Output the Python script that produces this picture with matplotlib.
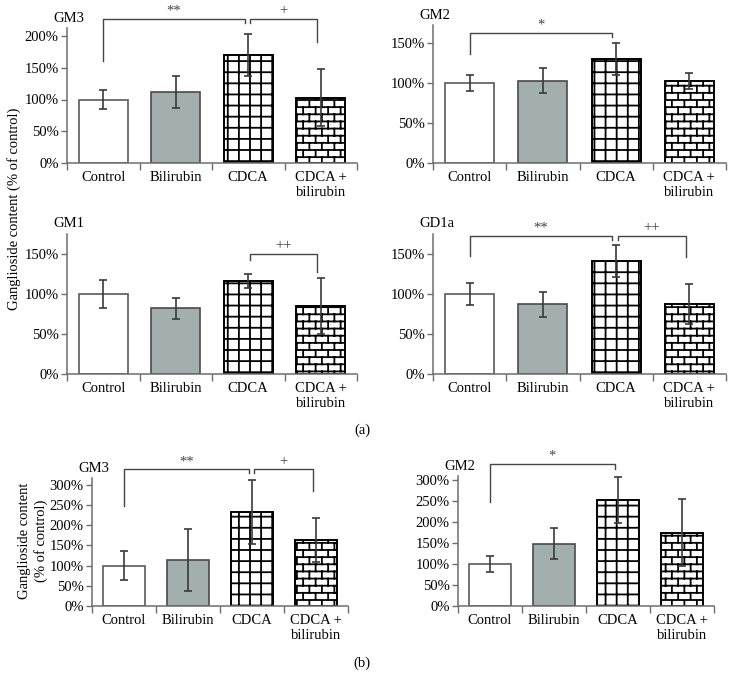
import warnings
import numpy as np
import matplotlib
matplotlib.use('Agg')
import matplotlib.pyplot as plt
from matplotlib import hatch as mhatch
from matplotlib.path import Path

warnings.filterwarnings('ignore')

plt.rcParams['font.family'] = ['Liberation Serif', 'DejaVu Serif']
plt.rcParams['font.size'] = 10.5
plt.rcParams['hatch.linewidth'] = 1.3

groups = ['Control', 'Bilirubin', 'CDCA', 'CDCA +\nbilirubin']

# (a) ganglioside content, % of control
a_gm3 = [100, 112, 170, 103]
a_gm3_err = [15, 25, 33, 45]
a_gm2 = [100, 103, 130, 102]
a_gm2_err = [10, 16, 20, 10]
a_gm1 = [100, 82, 116, 85]
a_gm1_err = [18, 13, 9, 35]
a_gd1a = [100, 87, 141, 88]
a_gd1a_err = [14, 16, 20, 25]
# (b)
b_gm3 = [100, 113, 233, 163]
b_gm3_err = [35, 77, 80, 55]
b_gm2 = [100, 148, 252, 175]
b_gm2_err = [20, 37, 55, 80]

# significance: (bar from, bar to, bracket top, left leg end, right leg end, mark)
a_gm3_sig = [(0, 2, 227, 160, 220, '**'), (2, 3, 227, 220, 191, '+')]
a_gm2_sig = [(0, 2, 162, 136, 157, '*')]
a_gm1_sig = [(2, 3, 150, 143, 127, '++')]
a_gd1a_sig = [(0, 2, 173, 147, 167, '**'), (2, 3, 173, 167, 146, '++')]
b_gm3_sig = [(0, 2, 338, 247, 328, '**'), (2, 3, 338, 328, 284, '+')]
b_gm2_sig = [(0, 2, 338, 248, 328, '*')]


# custom hatches: 'g' = square grid, 'b' = brick wall
class GridHatch(mhatch.HatchPatternBase):
    def __init__(self, hatch, density):
        self.num_lines = 9 if 'g' in hatch else 0
        self.num_vertices = self.num_lines * 4

    def set_vertices_and_codes(self, vertices, codes):
        n = self.num_lines
        steps = (np.arange(n) + 0.5) / n
        vertices[0:2 * n:2] = np.column_stack([np.zeros(n), steps])
        vertices[1:2 * n:2] = np.column_stack([np.ones(n), steps])
        vertices[2 * n::2] = np.column_stack([steps, np.zeros(n)])
        vertices[2 * n + 1::2] = np.column_stack([steps, np.ones(n)])
        codes[0::2] = Path.MOVETO
        codes[1::2] = Path.LINETO


class BrickHatch(mhatch.HatchPatternBase):
    rows = 14
    cols = 8

    def __init__(self, hatch, density):
        on = 'b' in hatch
        self.num_vertices = ((self.rows + 1) * 2 + self.rows * self.cols * 2) if on else 0

    def set_vertices_and_codes(self, vertices, codes):
        segs = []
        for k in range(self.rows + 1):
            y = k / self.rows
            segs.append(((0, y), (1, y)))
        for k in range(self.rows):
            y0, y1 = k / self.rows, (k + 1) / self.rows
            shift = 0.25 if k % 2 == 0 else 0.75
            for j in range(self.cols):
                x = (j + shift) / self.cols
                segs.append(((x, y0), (x, y1)))
        for i, (p0, p1) in enumerate(segs):
            vertices[2 * i] = p0
            vertices[2 * i + 1] = p1
            codes[2 * i] = Path.MOVETO
            codes[2 * i + 1] = Path.LINETO


mhatch._hatch_types.extend([GridHatch, BrickHatch])

faces = ['white', '#a3afad', 'white', 'white']
edges = ['#5a5a5a', '#4a4a4a', 'black', 'black']
lws = [1.2, 1.2, 1.4, 1.4]
hatches = [None, None, 'g', 'b']

W, H = 730, 689
fig = plt.figure(figsize=(7.3, 6.89), dpi=100)

# left px, baseline px (from top), width px, y max, px per unit
panels = [
    ('GM3', a_gm3, a_gm3_err, a_gm3_sig, (67, 163, 290, 212, 0.635), [0, 50, 100, 150, 200]),
    ('GM2', a_gm2, a_gm2_err, a_gm2_sig, (433, 163, 293, 172, 0.8), [0, 50, 100, 150]),
    ('GM1', a_gm1, a_gm1_err, a_gm1_sig, (67, 374, 290, 175, 0.8), [0, 50, 100, 150]),
    ('GD1a', a_gd1a, a_gd1a_err, a_gd1a_sig, (433, 374, 293, 175, 0.8), [0, 50, 100, 150]),
    ('GM3', b_gm3, b_gm3_err, b_gm3_sig, (92, 606, 256, 316, 0.404), list(range(0, 301, 50))),
    ('GM2', b_gm2, b_gm2_err, b_gm2_sig, (458, 606, 256, 310, 0.419), list(range(0, 301, 50))),
]

spine_c = '#6e6e6e'
x = np.arange(len(groups))

for name, vals, errs, sig, (l, b, w, ymax, s), yt in panels:
    h = ymax * s
    ax = fig.add_axes([l / W, 1 - b / H, w / W, h / H])
    bars = ax.bar(x, vals, width=0.67, color=faces, edgecolor=edges, linewidth=lws, zorder=2)
    for p, ht in zip(bars, hatches):
        if ht:
            p.set_hatch(ht)
    ax.errorbar(x, vals, yerr=errs, fmt='none', ecolor='#3a3a3a', elinewidth=1.2,
                capsize=3, capthick=1.2, zorder=3)
    ax.set_xlim(-0.5, 3.5)
    ax.set_ylim(0, ymax)
    ax.set_yticks(yt)
    ax.set_yticklabels([f'{v}%' for v in yt])
    ax.set_xticks(np.arange(-0.5, 4, 1))
    ax.set_xticklabels([])
    ax.set_xticks(x, minor=True)
    ax.set_xticklabels(groups, minor=True)
    ax.tick_params(axis='x', which='major', direction='out', length=5, color=spine_c, width=1)
    ax.tick_params(axis='x', which='minor', length=0, pad=6)
    ax.tick_params(axis='y', direction='out', length=4, color=spine_c, width=1, pad=2)
    for sp in ['top', 'right']:
        ax.spines[sp].set_visible(False)
    for sp in ['left', 'bottom']:
        ax.spines[sp].set_color(spine_c)
        ax.spines[sp].set_linewidth(1.1)
    ax.annotate(name, xy=(0, 1), xycoords='axes fraction', xytext=(-14, 10),
                textcoords='offset pixels', ha='left', va='center')
    for i, j, top, lb, rb, mark in sig:
        x1 = i + (0.03 if i > 0 else 0.0)
        x2 = j - 0.05
        ax.plot([x1, x1, x2, x2], [lb, top, top, rb], color='#454545', lw=1.0,
                clip_on=False, zorder=4)
        ax.annotate(mark, xy=((x1 + x2) / 2, top), xytext=(0, 1), textcoords='offset points',
                    ha='center', va='bottom', color='#444444', annotation_clip=False)

fig.text(14 / W, 1 - 209 / H, 'Ganglioside content (% of control)', rotation=90,
         ha='center', va='center')
fig.text(33 / W, 1 - 541 / H, 'Ganglioside content\n(% of control)', rotation=90,
         ha='center', va='center', multialignment='center')
fig.text(362 / W, 1 - 430 / H, '(a)', ha='center', va='center')
fig.text(362 / W, 1 - 663 / H, '(b)', ha='center', va='center')

fig.savefig('out.png', dpi=100)
